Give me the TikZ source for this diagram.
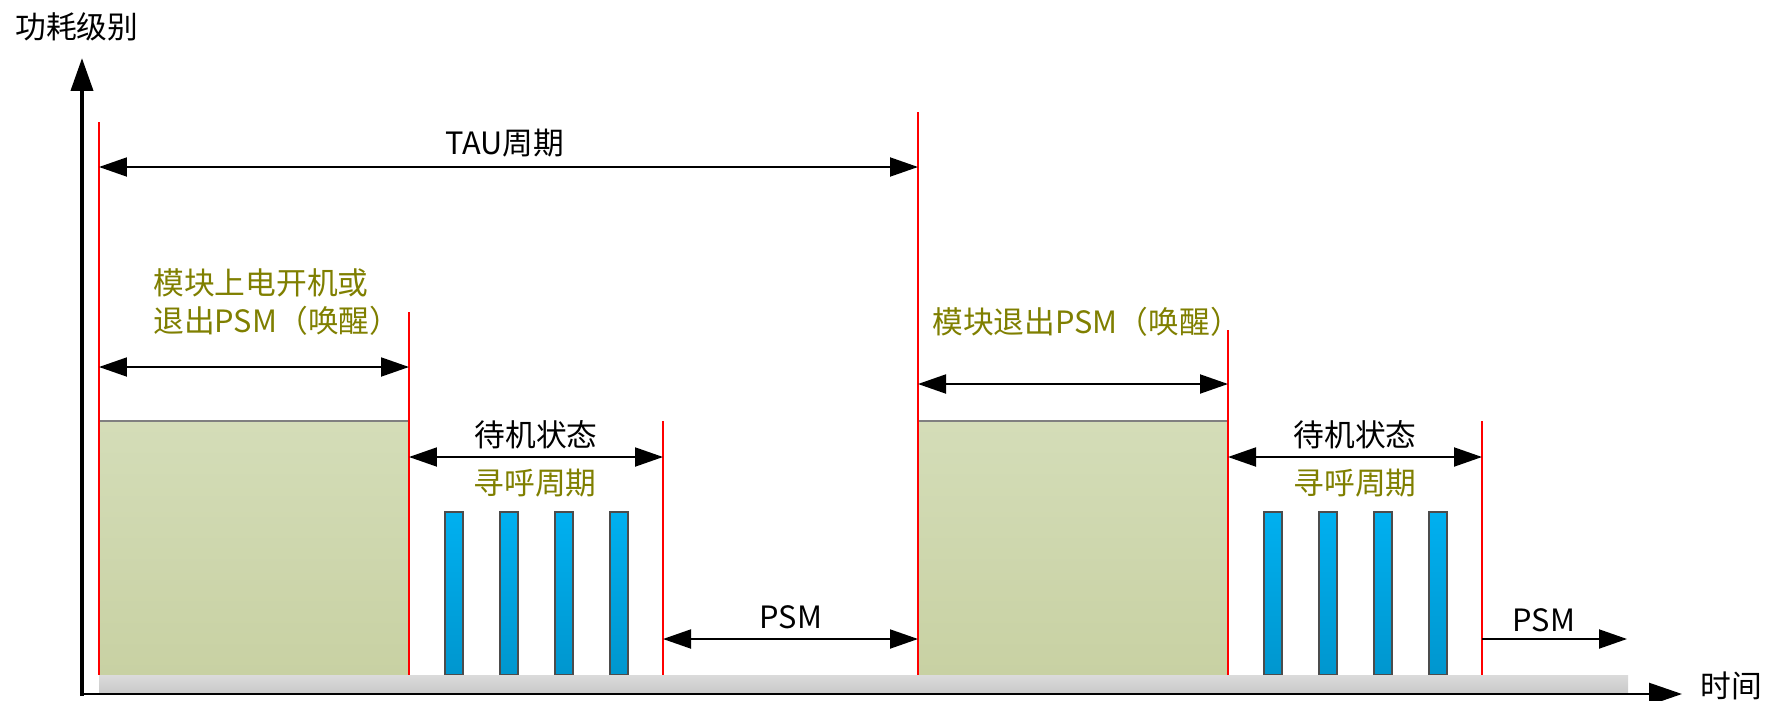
\documentclass[tikz,border=0pt]{standalone}
\usepackage{fontspec}
\setmainfont{Noto Sans CJK SC}
\usetikzlibrary{arrows.meta}
\definecolor{wakeolive}{HTML}{7F7F00}
\definecolor{pagetop}{HTML}{00B0F0}
\definecolor{pagebot}{HTML}{0096CE}
\definecolor{boxtop}{HTML}{D4DDB8}
\definecolor{boxbot}{HTML}{C8D1A3}
\begin{document}
\begin{tikzpicture}[x=0.02cm,y=-0.02cm,font=\fontsize{17.5}{22}\selectfont,
    dim/.style={line width=1.1pt,{Triangle[length=0.56cm,width=0.38cm]}-{Triangle[length=0.56cm,width=0.38cm]}},
    limit/.style={red,line width=0.7pt},
    wake/.style={text=wakeolive,inner sep=0pt},
    lbl/.style={inner sep=0pt},
    pagebar/.style={top color=pagetop,bottom color=pagebot,draw=gray!60!black,line width=0.6pt}]
    \useasboundingbox (0,0) rectangle (1765,700);
    \foreach \n/\x/\t in {a/99/122,b/409/312,c/663/421,d/918/112,e/1228/330,f/1482/421}{
        \coordinate (\n-t) at (\x,\t);
        \coordinate (\n-b) at (\x,675);}
    %===========================================
    \foreach \s in {0,819}{
        \shade[top color=boxtop,bottom color=boxbot] (99+\s,421) rectangle (409+\s,675);
        \draw[gray,line width=0.6pt] (99+\s,421) -- (409+\s,421);
        \foreach \x in {445,500,555,610}
            \shadedraw[pagebar] (\x+\s,512) rectangle ++(18,163);}
    \shade[top color=gray!28,bottom color=gray!42] (99,675) rectangle (1628,693);
    \foreach \n in {a,b,c,d,e,f}
        \draw[limit] (\n-t) -- (\n-b);
    %===========================================
    \coordinate (O) at (82,694);
    \coordinate (ytip) at (82,58);
    \coordinate (xtip) at (1682,694);
    \draw[line width=2.3pt,-{Triangle[length=0.66cm,width=0.44cm]}] (82,696) -- (ytip);
    \draw[line width=1.4pt,-{Triangle[length=0.66cm,width=0.44cm]}] (O) -- (xtip);
    \node[lbl] (ylabel) at (77,27) {功耗级别};
    \node[lbl] (xlabel) at (1731,686) {时间};
    %===========================================
    \foreach \l/\r/\y in {a/d/167,a/b/367,b/c/457,d/e/384,e/f/457,c/d/639}
        \draw[dim] (\l-t |- 0,\y) -- (\r-t |- 0,\y);
    \coordinate (psmend) at (1627,639);
    \draw[line width=1.1pt,-{Triangle[length=0.56cm,width=0.38cm]}] (f-t |- psmend) -- (psmend);
    \node[lbl] (tau) at (505,143) {TAU周期};
    \node[wake,align=left,anchor=west] (boot) at (153,302) {模块上电开机或\\退出PSM（唤醒）};
    \node[wake,anchor=west] (wakeup) at (932,322) {模块退出PSM（唤醒）};
    \node[lbl] (idle1) at (536,435) {待机状态};
    \node[wake] (page1) at (535,483) {寻呼周期};
    \node[lbl] (idle2) at (1355,435) {待机状态};
    \node[wake] (page2) at (1355,483) {寻呼周期};
    \node[lbl] (psm1) at (791,617) {PSM};
    \node[lbl] (psm2) at (1544,620) {PSM};
\end{tikzpicture}
\end{document}
